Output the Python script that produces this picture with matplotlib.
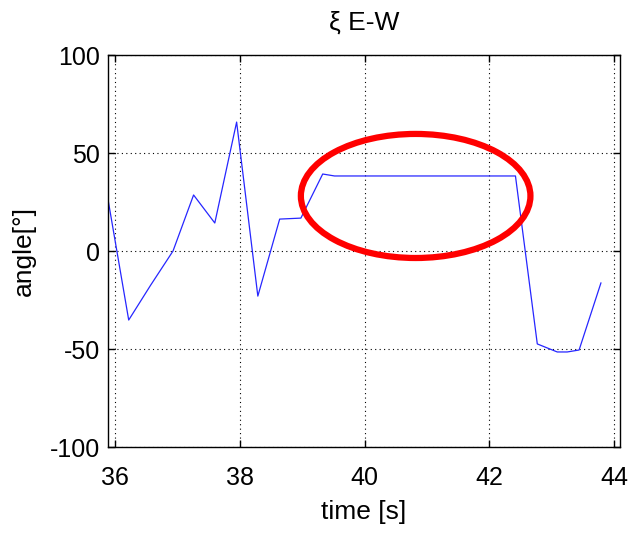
import numpy as np
import matplotlib
matplotlib.use('Agg')
from matplotlib import pyplot as plt
from matplotlib.patches import Ellipse

plt.rcParams['font.family'] = ['Liberation Sans', 'DejaVu Sans']
plt.rcParams['axes.unicode_minus'] = False

# angle, time in s
t = [35.89, 36.22, 36.57, 36.93, 37.26, 37.60, 37.95, 38.29, 38.64, 38.98,
     39.33, 39.52, 40.0, 40.5, 41.0, 41.5, 42.0, 42.42, 42.77, 43.09,
     43.25, 43.44, 43.79]
angle = [26.0, -35.2, -17.5, 0.0, 28.6, 14.3, 65.8, -23.0, 16.3, 16.8,
         39.3, 38.3, 38.3, 38.3, 38.3, 38.3, 38.3, 38.3, -47.4, -51.5,
         -51.5, -50.5, -16.3]

xticks = [36, 38, 40, 42, 44]
yticks = [-100, -50, 0, 50, 100]

# highlighted region (ellipse centre / size in data units)
ell_center = (40.82, 28.1)
ell_size = (3.68, 63.3)

fig = plt.figure(figsize=(6.29, 5.36), dpi=100)
ax = fig.add_axes([0.1717, 0.166, 0.814, 0.7313])

ax.plot(t, angle, color=(0.15, 0.15, 1.0), linewidth=0.9)
ax.add_patch(Ellipse(ell_center, ell_size[0], ell_size[1], fill=False,
                     edgecolor=(1.0, 0.0, 0.0), linewidth=4.5, zorder=5))

ax.set_xlim(35.888, 44.096)
ax.set_ylim(-100, 100)
ax.set_xticks(xticks)
ax.set_yticks(yticks)
ax.tick_params(direction='in', top=True, right=True, length=5, width=1,
               labelsize=18)
ax.tick_params(axis='x', pad=14)
ax.tick_params(axis='y', pad=6)
ax.grid(True, color='k', linestyle=(0, (1, 3)), linewidth=0.8)
for s in ax.spines.values():
    s.set_linewidth(1.0)

ax.set_title('ξ E-W', fontsize=19, pad=18)
ax.set_xlabel('time [s]', fontsize=19, labelpad=7)
ax.set_ylabel('angle[°]', fontsize=19, labelpad=10)

fig.savefig('out.png', dpi=100)
